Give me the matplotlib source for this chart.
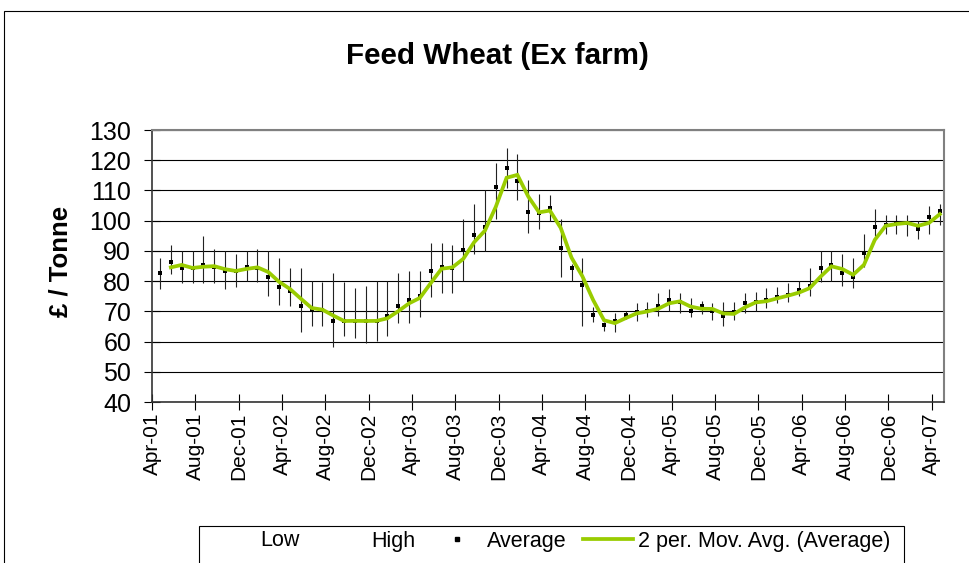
import numpy as np
import pandas as pd
import matplotlib
matplotlib.use("Agg")
import matplotlib.pyplot as plt
from matplotlib.lines import Line2D
from matplotlib.patches import Rectangle

plt.rcParams['font.family'] = ['Liberation Sans', 'DejaVu Sans']

# monthly feed wheat prices, Apr-01 .. Apr-07 (GBP / tonne)
avg = [82.8, 86.3, 84.4, 84.3, 85.2, 84.7, 83.2, 83.5, 84.6, 84.5, 81.5, 78.0,
       76.8, 71.6, 70.6, 70.5, 66.7, 66.9, 66.8, 66.8, 66.9, 68.5, 71.6, 73.7,
       75.2, 83.5, 84.7, 84.4, 90.3, 95.4, 98.0, 111.1, 117.3, 113.0, 103.0, 102.5,
       104.2, 91.0, 84.5, 78.7, 68.7, 65.4, 66.8, 68.7, 69.9, 70.0, 71.7, 73.6,
       73.0, 70.1, 71.6, 70.0, 68.6, 69.7, 72.9, 73.0, 73.7, 74.9, 75.5, 76.9,
       78.5, 84.5, 85.3, 82.7, 81.5, 89.3, 98.0, 98.6, 99.2, 99.3, 97.3, 101.2,
       103.1]
low = [77.5, 82.2, 79.5, 79.5, 79.5, 79.5, 77.5, 78.2, 80.0, 79.8, 75.0, 72.0,
       71.6, 63.2, 65.0, 65.0, 58.3, 61.8, 61.2, 59.4, 60.1, 61.8, 66.3, 66.3,
       68.1, 74.8, 76.2, 76.2, 80.0, 88.9, 90.0, 100.6, 110.7, 107.0, 96.0, 97.3,
       100.0, 81.2, 80.0, 65.2, 66.5, 63.4, 63.3, 67.5, 66.8, 68.2, 68.5, 70.1,
       69.5, 68.2, 69.2, 67.0, 65.0, 67.0, 69.6, 70.0, 71.1, 72.7, 73.0, 75.0,
       75.1, 79.8, 80.0, 78.4, 77.6, 84.8, 95.0, 95.6, 95.7, 95.0, 93.8, 95.6,
       98.7]
high = [87.8, 92.0, 90.0, 90.0, 95.0, 90.6, 90.0, 89.0, 90.0, 90.6, 90.0, 87.8,
        84.5, 84.5, 80.0, 79.7, 82.7, 79.8, 77.8, 78.4, 80.0, 80.0, 82.6, 83.2,
        83.3, 92.6, 92.6, 91.9, 100.6, 105.6, 110.0, 119.0, 124.0, 122.2, 113.3, 108.9,
        108.6, 100.6, 85.8, 87.6, 71.3, 66.5, 69.4, 70.0, 72.6, 73.1, 76.2, 77.5,
        76.1, 74.4, 73.5, 72.6, 73.1, 73.2, 76.2, 76.3, 77.6, 78.2, 79.4, 80.0,
        84.4, 90.0, 90.0, 89.0, 87.8, 95.6, 103.8, 102.0, 102.0, 102.0, 100.0, 105.0,
        105.6]
tick_labels = ['Apr-01', 'Aug-01', 'Dec-01', 'Apr-02', 'Aug-02', 'Dec-02',
               'Apr-03', 'Aug-03', 'Dec-03', 'Apr-04', 'Aug-04', 'Dec-04',
               'Apr-05', 'Aug-05', 'Dec-05', 'Apr-06', 'Aug-06', 'Dec-06',
               'Apr-07']

green = '#99CC00'
x = np.arange(len(avg)) + 0.74          # month index from Apr-01
mov_avg = pd.Series(avg).rolling(2).mean()

W, H = 970, 563
fig = plt.figure(figsize=(W / 100, H / 100), dpi=100)
ax = fig.add_axes([152 / W, 1 - 402 / H, (944 - 152) / W, (402 - 130) / H])

ax.vlines(x, low, high, colors='#222222', lw=0.8, zorder=2)
ax.plot(x, avg, ls='none', marker='s', ms=3.4, color='black',
        markeredgewidth=0, zorder=3)
ax.plot(x, mov_avg, color=green, lw=2.7, zorder=4, solid_joinstyle='miter')

ax.set_xlim(0, 73.13)
ax.set_ylim(40, 130)
ax.set_yticks(np.arange(40, 131, 10))
ax.set_xticks(np.arange(0, 73, 4))
ax.set_xticklabels(tick_labels, rotation=90, fontsize=15)
ax.tick_params(axis='y', labelsize=18, direction='inout', length=12, width=0.8, pad=9)
ax.tick_params(axis='x', direction='inout', length=11, width=0.8, pad=2)
ax.yaxis.grid(True, color='black', lw=0.8)
ax.set_axisbelow(True)
for s in ['top', 'right']:
    ax.spines[s].set_color('#808080')
    ax.spines[s].set_linewidth(1.5)
for s in ['left', 'bottom']:
    ax.spines[s].set_color('#333333')
    ax.spines[s].set_linewidth(1.2)

ax.set_ylabel('£ / Tonne', fontsize=18.5, fontweight='bold')
ax.yaxis.set_label_coords(-0.101, 0.515)

fig.text(497 / W, 1 - 56 / H, 'Feed Wheat (Ex farm)', fontsize=21.3,
         fontweight='bold', ha='center', va='center')

# chart border and legend box (both run off the bottom edge)
fig.patches.append(Rectangle((4 / W, -0.1), 1.2, 1.1 - 11 / H,
                             transform=fig.transFigure, fill=False,
                             ec='black', lw=0.8))
fig.patches.append(Rectangle((199 / W, -0.1), (904 - 199) / W, 0.1 + 1 - 526 / H,
                             transform=fig.transFigure, fill=False,
                             ec='black', lw=0.8))

handles = [Line2D([], [], ls='none'),
           Line2D([], [], ls='none'),
           Line2D([], [], ls='none', marker='s', ms=3.4, color='black'),
           Line2D([], [], color=green, lw=2.7)]
fig.legend(handles, ['Low', 'High', 'Average', '2 per. Mov. Avg. (Average)'],
           loc='center left', bbox_to_anchor=(190 / W, 1 - 541 / H),
           ncol=4, frameon=False, fontsize=15.5, handlelength=2.3,
           handletextpad=0.25, columnspacing=0.78, borderpad=0.2)

fig.savefig('out.png', dpi=100)
